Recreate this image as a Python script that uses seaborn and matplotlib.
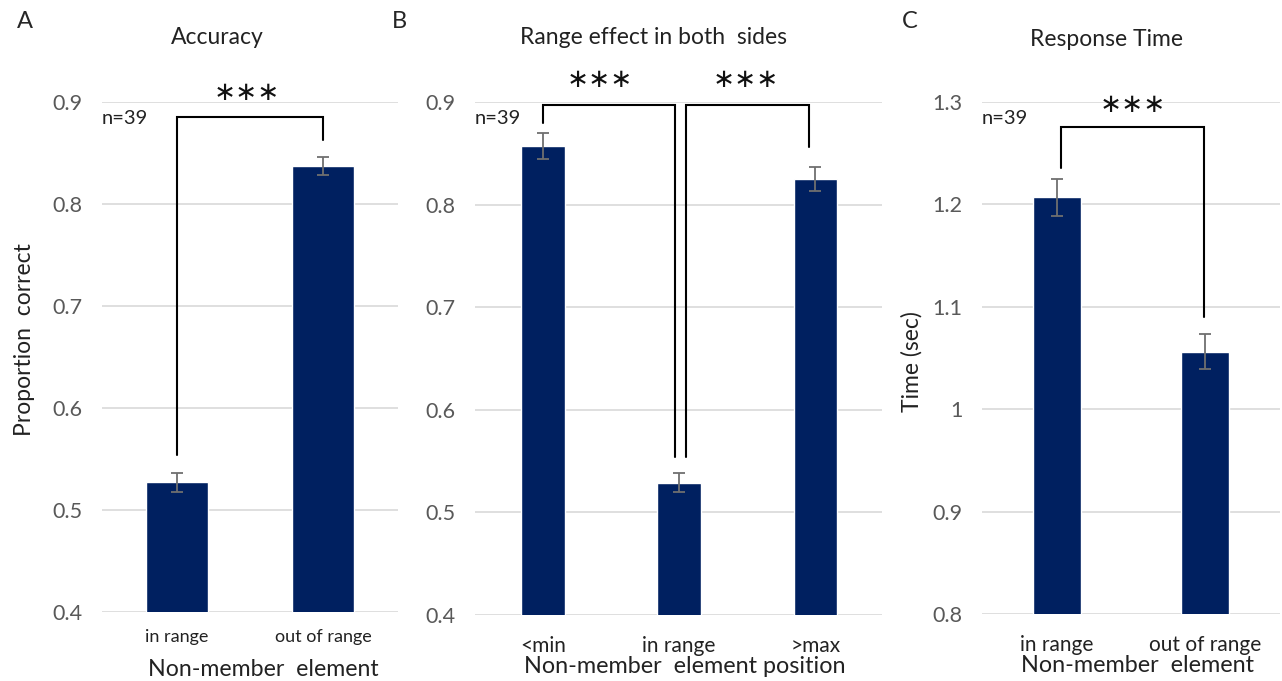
import numpy as np
import pandas as pd
import matplotlib
matplotlib.use("Agg")
import matplotlib.pyplot as plt
import seaborn as sns

# values
acc_labels = ["in range", "out of range"]
acc_means = [0.527, 0.837]
acc_err = [0.009, 0.009]

side_labels = ["<min", "in range", ">max"]
side_means = [0.857, 0.529, 0.825]
side_err = [0.013, 0.009, 0.012]

rt_labels = ["in range", "out of range"]
rt_means = [1.207, 1.056]
rt_err = [0.018, 0.017]

sns.set_theme(style="white")
plt.rcParams["font.family"] = ["Lato", "DejaVu Sans"]

navy = "#002060"
grey_txt = "#595959"
grid_col = "#d9d9d9"
dark = "#222222"

fig = plt.figure(figsize=(12.82, 6.81), dpi=100)


def panel(rect, labels, means, errs, ylim, yticks, xlim, width, ylabel_fmt):
    ax = fig.add_axes(rect)
    df = pd.DataFrame({"cond": labels, "val": means})
    sns.barplot(data=df, x="cond", y="val", color=navy, saturation=1,
                width=width, errorbar=None, ax=ax)
    ax.errorbar(range(len(means)), means, yerr=errs, fmt="none",
                ecolor="#6f6f6f", elinewidth=1.3, capsize=4, capthick=1.3)
    ax.set_ylim(*ylim)
    ax.set_xlim(*xlim)
    ax.set_yticks(yticks)
    ax.set_yticklabels([ylabel_fmt(v) for v in yticks], color=grey_txt, fontsize=15.5)
    ax.tick_params(axis="y", length=0, pad=14)
    ax.tick_params(axis="x", length=0, pad=12, labelsize=13, colors=dark)
    ax.yaxis.grid(True, color=grid_col, linewidth=1.2)
    ax.set_axisbelow(True)
    for s in ax.spines.values():
        s.set_visible(False)
    ax.set_ylabel("")
    ax.text(0.0, 0.985, "n=39", transform=ax.transAxes, ha="left", va="top",
            fontsize=14.5, color=dark)
    return ax


def bracket(ax, x1, x2, ytop, y1, y2):
    ax.plot([x1, x1, x2, x2], [y1, ytop, ytop, y2], color="black", lw=1.5,
            solid_joinstyle="miter", clip_on=False)


def stars(ax, x, y):
    ax.text(x, y, "∗∗∗", ha="center", va="center", fontsize=19,
            family=["DejaVu Sans"], color="#111111", clip_on=False)


# panel A
ax_a = panel([0.0796, 0.1013, 0.2309, 0.7489], acc_labels, acc_means, acc_err,
             (0.4, 0.9), [0.4, 0.5, 0.6, 0.7, 0.8, 0.9], (-0.514, 1.514), 0.42,
             lambda v: f"{v:.1f}")
ax_a.set_xlabel("Non-member  element", fontsize=16.7, labelpad=10, color=dark)
ax_a.xaxis.label.set_x(0.544)
bracket(ax_a, 0, 1, 0.885, 0.554, 0.863)
stars(ax_a, 0.48, 0.909)

# panel B
ax_b = panel([0.3705, 0.0969, 0.3175, 0.7533], side_labels, side_means, side_err,
             (0.4, 0.9), [0.4, 0.5, 0.6, 0.7, 0.8, 0.9], (-0.5, 2.49), 0.32,
             lambda v: f"{v:.1f}")
ax_b.tick_params(axis="x", pad=15, labelsize=15)
ax_b.set_xlabel("Non-member  element position", fontsize=16.8, labelpad=0, color=dark)
ax_b.xaxis.label.set_x(0.516)
bracket(ax_b, 0, 0.97, 0.897, 0.88, 0.554)
bracket(ax_b, 1.05, 1.95, 0.897, 0.554, 0.856)
stars(ax_b, 0.42, 0.921)
stars(ax_b, 1.49, 0.921)

# panel C
ax_c = panel([0.766, 0.0984, 0.2325, 0.7518], rt_labels, rt_means, rt_err,
             (0.8, 1.3), [0.8, 0.9, 1.0, 1.1, 1.2, 1.3], (-0.507, 1.507), 0.32,
             lambda v: f"{v:g}")
ax_c.tick_params(axis="x", pad=15, labelsize=15)
ax_c.set_xlabel("Non-member  element", fontsize=16.8, labelpad=0, color=dark)
ax_c.xaxis.label.set_x(0.523)
bracket(ax_c, 0.03, 0.99, 1.276, 1.236, 1.09)
stars(ax_c, 0.51, 1.297)

# y axis titles
fig.text(25 / 1282, 1 - 340 / 681, "Proportion  correct", rotation=90,
         ha="center", va="center", fontsize=16.5, color=dark)
fig.text(912 / 1282, 1 - 362 / 681, "Time (sec)", rotation=90,
         ha="center", va="center", fontsize=16.5, color=dark)

# panel titles
fig.text(217 / 1282, 1 - 37 / 681, "Accuracy", ha="center", va="center",
         fontsize=16.5, color=dark)
fig.text(653 / 1282, 1 - 37 / 681, "Range effect in both  sides", ha="center",
         va="center", fontsize=16.5, color=dark)
fig.text(1107 / 1282, 1 - 40 / 681, "Response Time", ha="center", va="center",
         fontsize=16.5, color=dark)

# panel letters
fig.text(17 / 1282, 1 - 22 / 681, "A", ha="left", va="center", fontsize=17)
fig.text(392 / 1282, 1 - 22 / 681, "B", ha="left", va="center", fontsize=17)
fig.text(902 / 1282, 1 - 22 / 681, "C", ha="left", va="center", fontsize=17)

fig.savefig("out.png", dpi=100, facecolor="white")
